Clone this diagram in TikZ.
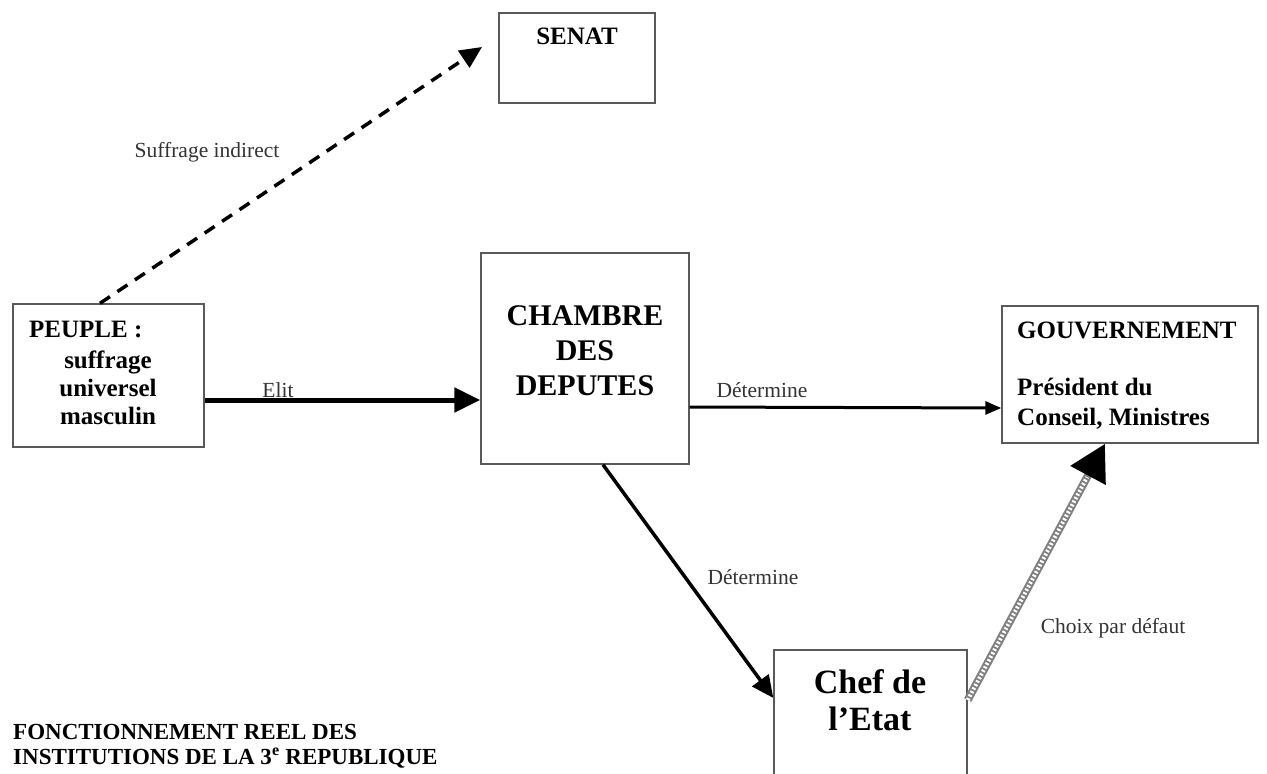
\documentclass[tikz,border=0pt]{standalone}
\usepackage{fontspec}
\setmainfont{Liberation Serif}
\usetikzlibrary{arrows.meta}
\begin{document}
\begin{tikzpicture}[x=1pt,y=-1pt,
  box/.style={draw=black!65, line width=1.4pt, inner sep=0pt, fill=none},
  btext/.style={font=\fontsize{25}{28}\selectfont\bfseries, inner sep=0pt},
  lbl/.style={font=\fontsize{21.5}{24}\selectfont, text=black!80, inner sep=0pt},
  conn/.style={draw=black, line cap=butt}
  ]
\useasboundingbox (0,0) rectangle (1267,774);
\clip (0,0) rectangle (1267,774);

% boxes
\node[box, minimum width=156pt, minimum height=90pt] (senat) at (577,58) {};
\node[box, minimum width=191pt, minimum height=143pt] (peuple) at (108.5,375.5) {};
\node[box, minimum width=208pt, minimum height=211pt] (chambre) at (585,358.5) {};
\node[box, minimum width=256pt, minimum height=137pt] (gouv) at (1130,374.5) {};
\node[box, minimum width=193pt, minimum height=150pt] (chef) at (870.5,725) {};

% box texts
\node[btext] (tsenat) at (577,36) {SENAT};
\node[btext, anchor=base west] (tpeuple) at (29,337) {PEUPLE :};
\node[btext, align=center] (tsuff) at (108,388) {suffrage\\universel\\masculin};
\node[btext, font=\fontsize{30}{35}\selectfont\bfseries, align=center] (tchambre) at (585,351) {CHAMBRE\\DES\\DEPUTES};
\node[btext, anchor=west] (tgouv) at (1017,330) {GOUVERNEMENT};
\node[btext, anchor=west, align=left, font=\fontsize{25}{30}\selectfont\bfseries] (tpres) at (1017,404) {Président du\\Conseil, Ministres};
\node[btext, font=\fontsize{34}{37}\selectfont\bfseries, align=center] (tchef) at (870,700) {Chef de\\l’Etat};
\node[btext, font=\fontsize{23}{25}\selectfont\bfseries, anchor=west, align=left] (title) at (13,746) {FONCTIONNEMENT REEL DES\\INSTITUTIONS DE LA 3\textsuperscript{e} REPUBLIQUE};

% labels
\node[lbl] (lsuff) at (207,152) {Suffrage indirect};
\node[lbl] (lelit) at (278,390) {Elit};
\node[lbl] (ldet1) at (762,390) {Détermine};
\node[lbl] (ldet2) at (753,577) {Détermine};
\node[lbl] (lchoix) at (1113,628) {Choix par défaut};

\coordinate (sentip) at (482,47);

% connectors
\draw[conn, line width=3.5pt, dash pattern=on 12pt off 9pt,
      -{Triangle[length=22pt,width=20pt]}] (peuple.north -| 100,0) -- (sentip);
\draw[conn, line width=5pt, -{Triangle[length=26pt,width=24pt]}]
      (peuple.east |- 0,400) -- (chambre.west |- 0,400);
\draw[conn, line width=3pt, -{Triangle[length=16pt,width=13pt]}]
      (chambre.east |- 0,407) -- (gouv.west |- 0,408);
\draw[conn, line width=3.5pt, -{Triangle[length=22pt,width=20pt]}]
      (chambre.south -| 603,0) -- (chef.west |- 0,698);
\draw[line width=8pt, draw=black!50, -{Triangle[length=36pt,width=38pt,color=black,fill=black]}]
      (chef.east |- 0,700) -- (gouv.south -| 1105,0);
\draw[line width=4pt, draw=white, dash pattern=on 2pt off 2pt, shorten >=38pt]
      (chef.east |- 0,700) -- (gouv.south -| 1105,0);
\end{tikzpicture}
\end{document}
